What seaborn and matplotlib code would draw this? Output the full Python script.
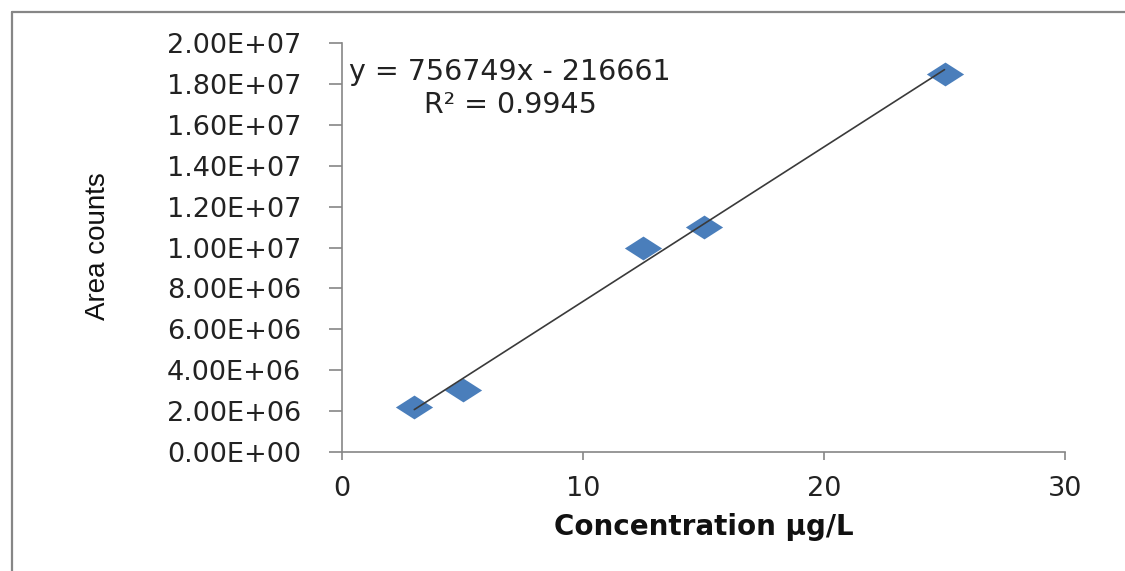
import matplotlib
matplotlib.use("Agg")
import matplotlib.pyplot as plt
import seaborn as sns
from matplotlib.lines import Line2D
from matplotlib.ticker import FuncFormatter

# datos de calibración
concentracion = [3, 5, 12.5, 15, 25]
area = [2.2e6, 3.05e6, 1.0e7, 1.1e7, 1.85e7]
ecuacion = "y = 756749x - 216661"
r2_texto = "R² = 0.9945"
y_ticks = [0, 2e6, 4e6, 6e6, 8e6, 1e7, 1.2e7, 1.4e7, 1.6e7, 1.8e7, 2e7]
x_ticks = [0, 10, 20, 30]

sns.set_style("white")
plt.rcParams['font.family'] = ['DejaVu Sans']

W, H = 1125, 571
fig = plt.figure(figsize=(W / 100, H / 100), dpi=100)
ax = fig.add_axes([342 / W, 1 - 452 / H, (1065 - 342) / W, (452 - 43) / H])

gris = '#868686'
azul = '#4A7EBB'
# rombo achatado como en Excel
rombo = [(-1, 0), (0, 0.64), (1, 0), (0, -0.64), (-1, 0)]

sns.regplot(
    x=concentracion, y=area, ax=ax, ci=None, truncate=True,
    marker=rombo,
    scatter_kws={'s': 720, 'color': azul, 'linewidths': 0, 'alpha': 1},
    line_kws={'color': '#3a3a3a', 'linewidth': 1.2},
)

ax.set_xlim(0, 30)
ax.set_ylim(0, 2e7)
ax.set_xticks(x_ticks)
ax.set_yticks(y_ticks)
ax.yaxis.set_major_formatter(FuncFormatter(lambda v, p: '{:.2E}'.format(v)))

for s in ['top', 'right']:
    ax.spines[s].set_visible(False)
for s in ['left', 'bottom']:
    ax.spines[s].set_color(gris)
    ax.spines[s].set_linewidth(1.2)

ax.tick_params(axis='y', direction='out', length=9.5, width=1.2, color=gris,
               labelsize=19.5, pad=20, left=True)
ax.tick_params(axis='x', direction='out', length=6, width=1.2, color=gris,
               labelsize=19.5, pad=11, bottom=True)
for lab in ax.get_xticklabels() + ax.get_yticklabels():
    lab.set_color('#222222')

ax.set_xlabel('Concentration µg/L', fontsize=20, fontweight='bold', labelpad=8, color='#111111')
ax.set_ylabel('Area counts', fontsize=20, family=['Liberation Sans', 'DejaVu Sans'],
              color='#111111')
ax.yaxis.set_label_coords(111 / W, (571 - 246) / H, transform=fig.transFigure)

ax.text((510 - 342) / (1065 - 342), (452 - 72) / (452 - 43), ecuacion,
        transform=ax.transAxes, ha='center', va='center', fontsize=20.5, color='#222222')
ax.text((510 - 342) / (1065 - 342), (452 - 105) / (452 - 43), r2_texto,
        transform=ax.transAxes, ha='center', va='center', fontsize=20.5, color='#222222')

# marco exterior del gráfico
fig.add_artist(Line2D([12 / W, 1], [1 - 12 / H, 1 - 12 / H], transform=fig.transFigure,
                      color=gris, linewidth=1.6))
fig.add_artist(Line2D([12 / W, 12 / W], [0, 1 - 12 / H], transform=fig.transFigure,
                      color=gris, linewidth=1.6))

fig.savefig('out.png', dpi=100)
